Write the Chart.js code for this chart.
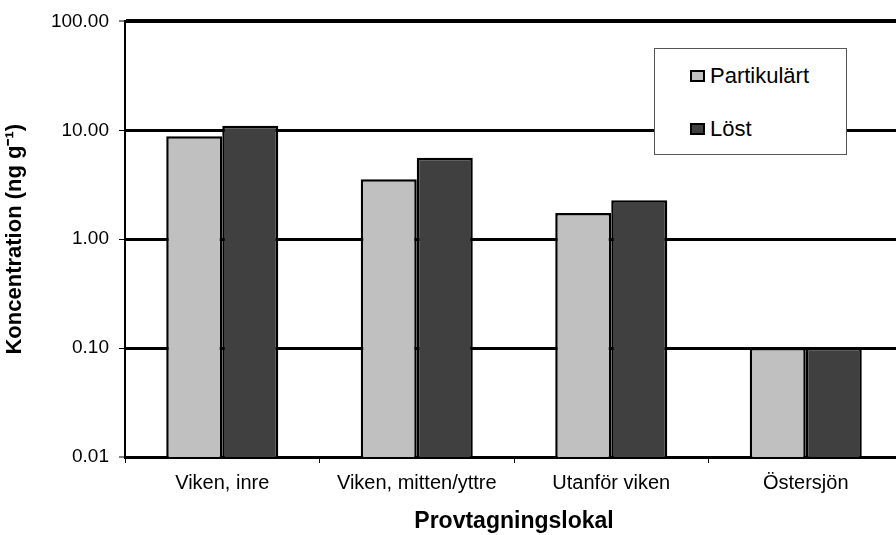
<!DOCTYPE html>
<html>
<head>
<meta charset="utf-8">
<script src="https://cdn.jsdelivr.net/npm/chart.js@4"></script>
<style>
html,body{margin:0;padding:0;background:#fff;overflow:hidden;width:896px;height:535px;}
#wrap{position:absolute;left:0;top:0;width:905px;height:535px;}
#legend{position:absolute;left:654px;top:48px;width:193px;height:107px;background:#fff;border:1px solid #555;box-sizing:border-box;font-family:"Liberation Sans",Arial,sans-serif;font-size:22px;color:#000;}
#legend .item{position:absolute;left:35px;height:26px;line-height:26px;}
#legend .box{display:inline-block;width:11px;height:8px;border:2px solid #000;vertical-align:middle;margin-right:5px;position:relative;top:-1px;}
</style>
</head>
<body>
<div id="wrap"><canvas id="myChart" width="905" height="535"></canvas></div>
<div id="legend"></div>
<script>
// data
var categories = ["Viken, inre", "Viken, mitten/yttre", "Utanför viken", "Östersjön"];
var partikulart = [8.8, 3.55, 1.74, 0.10];
var lost = [11.0, 5.6, 2.28, 0.10];
var yTicks = [0.01, 0.1, 1, 10, 100];

var S1_Name = "Partikulärt";
var S2_Name = "Löst";
var yTitle = "Koncentration (ng g\u207B\u00B9)";
var xTitle = "Provtagningslokal";

var fontName = "'Liberation Sans', Arial, sans-serif";

var chart = new Chart("myChart", {
  type: "bar",
  data: {
    labels: categories,
    datasets: [
      {label: S1_Name, data: partikulart, backgroundColor: "#c0c0c0", borderColor: "#000", borderWidth: 2.5},
      {label: S2_Name, data: lost, backgroundColor: "#404040", borderColor: "#000", borderWidth: 2.5}
    ]
  },
  options: {
    responsive: false,
    animation: false,
    layout: {padding: {top: 16, right: 2, left: 0, bottom: 0}},
    datasets: {bar: {categoryPercentage: 0.576, barPercentage: 1}},
    plugins: {legend: {display: false}, tooltip: {enabled: false}},
    scales: {
      x: {
        grid: {display: true, drawOnChartArea: false, drawTicks: true, tickLength: 6, tickWidth: 1, tickColor: "#000", offset: true},
        border: {display: true, color: "#000", width: 3},
        ticks: {color: "#000", font: {family: fontName, size: 20}, padding: 8, maxRotation: 0},
        title: {display: true, text: xTitle, color: "#000", font: {family: fontName, size: 23, weight: "bold"}, padding: {top: 4, bottom: 0}},
        afterFit: function(s){ s.height = 78; }
      },
      y: {
        type: "logarithmic",
        min: 0.01,
        max: 100,
        afterBuildTicks: function(s){ s.ticks = yTicks.map(function(v){ return {value: v}; }); },
        grid: {
          color: "#000",
          lineWidth: function(c){ if (c.tick && c.tick.value == 0.01) return 0; if (c.tick && c.tick.value == 100) return 4; return 3; },
          tickLength: 6, tickWidth: 1, tickColor: "#000"
        },
        border: {display: true, color: "#000", width: 2},
        ticks: {color: "#000", font: {family: fontName, size: 19}, padding: 10,
          callback: function(v){ return Number(v).toFixed(2); }},
        title: {display: true, text: yTitle, color: "#000", font: {family: fontName, size: 22, weight: "bold"}, padding: {top: 2, bottom: 0}},
        afterFit: function(s){ s.width = 125; }
      }
    }
  }
});

// legend from the datasets
var lg = document.getElementById("legend");
chart.data.datasets.forEach(function(ds, i){
  var d = document.createElement("div");
  d.className = "item";
  d.style.top = (i == 0 ? 14 : 67) + "px";
  d.innerHTML = '<span class="box" style="background:' + ds.backgroundColor + '"></span>' + ds.label;
  lg.appendChild(d);
});
</script>
</body>
</html>
